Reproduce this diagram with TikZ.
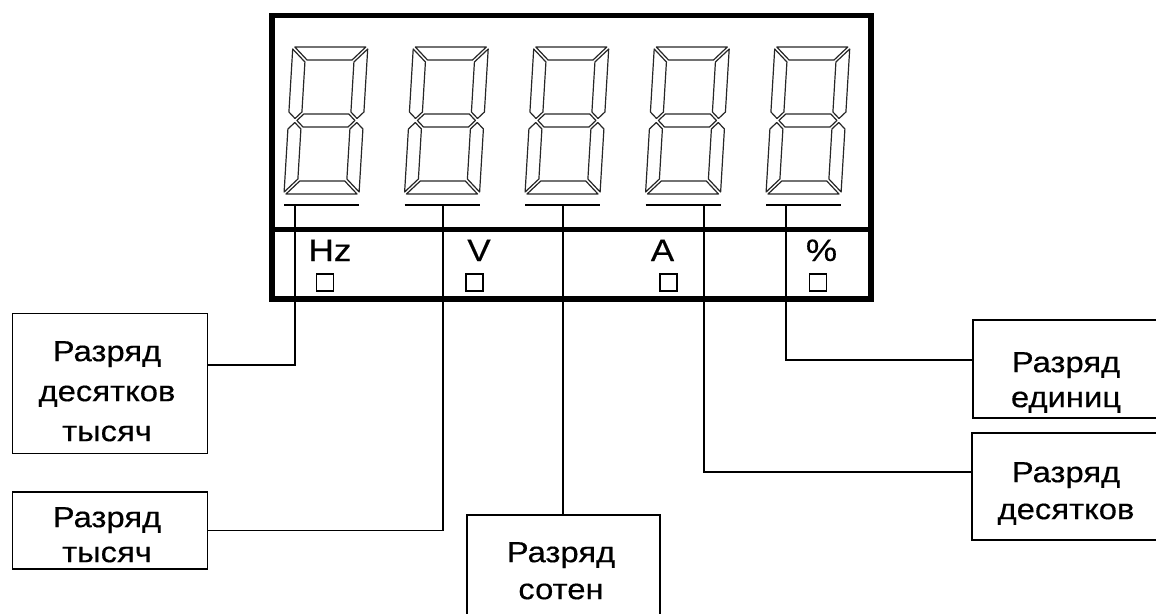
\documentclass[tikz,border=0pt]{standalone}
\usepackage{fontspec}
\setmainfont{Liberation Sans}[FakeStretch=1.13,FakeBold=0.4]
\begin{document}
\begin{tikzpicture}[x=1pt,y=-1pt,
  seg/.style={draw=black!85, line width=1.2pt, line join=round},
  wire/.style={draw=black, line width=1.5pt},
  frameline/.style={draw=black, line width=5.5pt},
  boxx/.style={draw=black, line width=1.5pt, inner sep=0pt, outer sep=0pt, rectangle},
  txt/.style={align=center, inner sep=0pt, anchor=north, font=\fontsize{29}{#1}\selectfont},
  ind/.style={draw=black, line width=1.3pt, minimum size=17pt, inner sep=0pt},
  unit/.style={font=\fontsize{31}{36}\selectfont, inner sep=0pt, anchor=base}]
\useasboundingbox (0,0) rectangle (1156,613);
\clip (0,0) rectangle (1156,613);

% display frame
\node[draw=black, line width=5.5pt, minimum width=599pt, minimum height=283.5pt,
      inner sep=0pt, outer sep=0pt] (disp) at (571.5,157.25) {};
\coordinate (dl) at (272,229.5);
\coordinate (dr) at (871,229.5);
\draw[frameline] (dl) -- (dr);

% seven-segment digits
\foreach \x in {284,404.5,525,645.5,766}{
  \begin{scope}[shift={(\x,194)}, x=1pt, y=1pt, xslant=0.06]
    \draw[seg] (2,147) -- (73,147) -- (60,134) -- (15,134) -- cycle;
    \draw[seg] (0,145) -- (13,132) -- (13,82) -- (6.5,75.5) -- (0,82) -- cycle;
    \draw[seg] (75,145) -- (62,132) -- (62,82) -- (68.5,75.5) -- (75,82) -- cycle;
    \draw[seg] (8.5,73.5) -- (15,80) -- (60,80) -- (66.5,73.5) -- (60,67) -- (15,67) -- cycle;
    \draw[seg] (0,2) -- (13,15) -- (13,65) -- (6.5,71.5) -- (0,65) -- cycle;
    \draw[seg] (75,2) -- (62,15) -- (62,65) -- (68.5,71.5) -- (75,65) -- cycle;
    \draw[seg] (2,0) -- (73,0) -- (60,13) -- (15,13) -- cycle;
  \end{scope}
  \draw[wire] (\x,205) -- ({\x+75},205);
}

% unit labels and indicator squares
\node[unit] (lhz) at (330,261) {Hz};
\node[unit] (lv)  at (479,261) {V};
\node[unit] (la)  at (662.5,261) {A};
\node[unit] (lpc) at (821.5,261) {\%};
\node[ind] (s1) at (325,282.5) {};
\node[ind] (s2) at (474.5,282.5) {};
\node[ind] (s3) at (668.5,282.5) {};
\node[ind] (s4) at (818,282.5) {};

% boxes
\node[boxx, minimum width=195pt, minimum height=140pt] (b1) at (109.75,383.25) {};
\node[boxx, minimum width=195pt, minimum height=77pt]  (b2) at (109.75,530.5) {};
\node[boxx, minimum width=193pt, minimum height=120pt] (b3) at (563.5,575) {};
\node[boxx, minimum width=187pt, minimum height=98pt]  (b4) at (1066.5,369) {};
\node[boxx, minimum width=188pt, minimum height=107pt] (b5) at (1066,486.5) {};

\node[txt=40] (t1) at (107,341) {Разряд\\десятков\\тысяч};
\node[txt=35] (t2) at (107,507) {Разряд\\тысяч};
\node[txt=37] (t3) at (561,542) {Разряд\\сотен};
\node[txt=35] (t4) at (1066,352) {Разряд\\единиц};
\node[txt=37] (t5) at (1066,462) {Разряд\\десятков};

% connectors
\coordinate (u1) at (295,205);
\coordinate (u2) at (443,205);
\coordinate (u3) at (563,205);
\coordinate (u4) at (704,205);
\coordinate (u5) at (786,205);
\coordinate (j1) at (295,365);
\coordinate (j4) at (704,472);
\coordinate (j5) at (786,360);
\draw[wire] (u1) -- (j1) -- (j1 -| b1.east);
\draw[wire] (u2) |- (b2.east);
\draw[wire] (u3) -- (u3 |- b3.north);
\draw[wire] (u4) -- (j4) -- (j4 -| b5.west);
\draw[wire] (u5) -- (j5) -- (j5 -| b4.west);
\end{tikzpicture}
\end{document}
